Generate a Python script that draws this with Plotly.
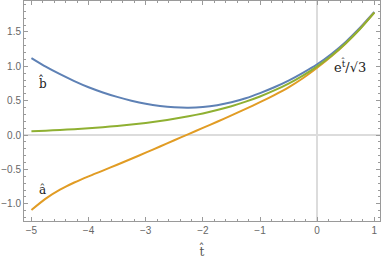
import plotly.graph_objects as go

t_vals = [-5.0, -4.75, -4.5, -4.25, -4.0, -3.75, -3.5, -3.25, -3.0, -2.75, -2.5, -2.25, -2.0,
          -1.75, -1.5, -1.25, -1.0, -0.75, -0.5, -0.25, 0.0, 0.25, 0.5, 0.75, 1.0]
b_hat = [1.12, 0.995, 0.885, 0.785, 0.695, 0.620, 0.555, 0.500, 0.455, 0.423, 0.404, 0.398, 0.408,
         0.434, 0.476, 0.535, 0.610, 0.695, 0.792, 0.905, 1.030, 1.180, 1.355, 1.560, 1.790]
a_hat = [-1.09, -0.925, -0.795, -0.690, -0.600, -0.517, -0.432, -0.345, -0.256, -0.166, -0.076, 0.014, 0.104,
         0.194, 0.286, 0.380, 0.478, 0.582, 0.694, 0.826, 0.978, 1.145, 1.333, 1.545, 1.780]
e_curve = [0.056, 0.064, 0.074, 0.086, 0.099, 0.115, 0.132, 0.153, 0.177, 0.204, 0.236, 0.273, 0.315,
           0.364, 0.420, 0.486, 0.561, 0.649, 0.749, 0.866, 1.0, 1.155, 1.335, 1.542, 1.781]

x_ticks = [-5, -4, -3, -2, -1, 0, 1]
y_ticks = [-1.0, -0.5, 0.0, 0.5, 1.0, 1.5]

blue = "#5E81B5"
orange = "#E19C24"
green = "#8FB032"

fig = go.Figure()
for ys, col in [(b_hat, blue), (a_hat, orange), (e_curve, green)]:
    fig.add_trace(go.Scatter(x=t_vals, y=ys, mode="lines",
                             line=dict(color=col, width=2, shape="spline", smoothing=0.6),
                             hoverinfo="skip", showlegend=False))

fig.add_annotation(x=-4.8, y=0.77, text="b̂", showarrow=False,
                   font=dict(size=12, color="#222", family="DejaVu Serif"))
fig.add_annotation(x=-4.8, y=-0.80, text="â", showarrow=False,
                   font=dict(size=12, color="#222", family="DejaVu Serif"))
fig.add_annotation(x=0.57, y=1.0, text="e<sup>t̂</sup>/√3", showarrow=False,
                   font=dict(size=13, color="#222", family="DejaVu Serif"))

axis_common = dict(
    showline=True, linecolor="#9a9a9a", linewidth=1, mirror="allticks",
    ticks="inside", ticklen=4, tickcolor="#9a9a9a", tickwidth=1,
    showgrid=False, zeroline=True, zerolinecolor="#dcdcdc", zerolinewidth=1.5,
    tickfont=dict(family="Liberation Sans", size=10, color="#666"),
    automargin=False,
)

fig.update_xaxes(range=[-5.13, 1.1], tickvals=x_ticks, ticktext=[str(v).replace("-", "−") for v in x_ticks],
                 minor=dict(ticks="inside", ticklen=2, dtick=0.2, tick0=0, tickcolor="#9a9a9a", showgrid=False),
                 title=dict(text="t̂", font=dict(family="DejaVu Serif", size=12, color="#555"), standoff=12),
                 **axis_common)
fig.update_yaxes(range=[-1.25, 1.95], tickvals=y_ticks, ticktext=[f"{v:.1f}".replace("-", "−") for v in y_ticks],
                 minor=dict(ticks="inside", ticklen=2, dtick=0.1, tick0=0, tickcolor="#9a9a9a", showgrid=False),
                 **axis_common)

fig.update_layout(width=382, height=261, margin=dict(l=24, r=2, t=1, b=40),
                  plot_bgcolor="white", paper_bgcolor="white")
fig.write_html("out.html", config={"displayModeBar": False},
               post_script="document.body.style.margin='0';")
